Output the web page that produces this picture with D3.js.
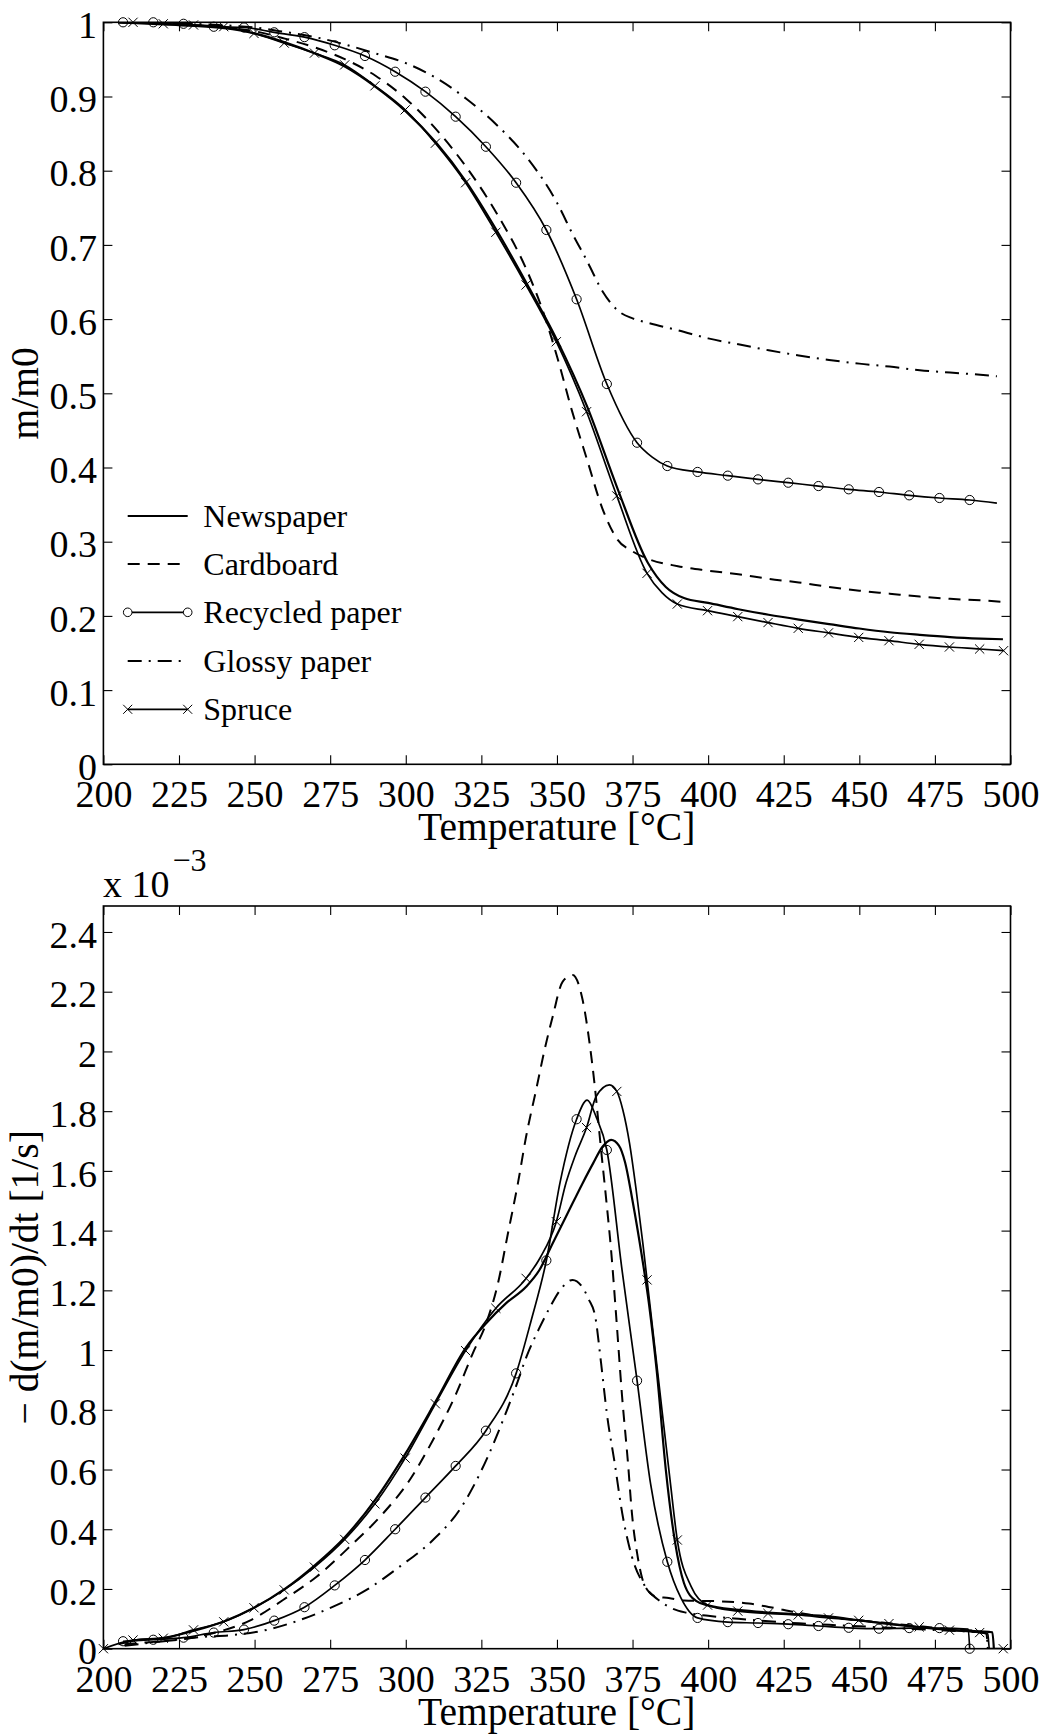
<!DOCTYPE html>
<html>
<head>
<meta charset="utf-8">
<script src="https://cdn.jsdelivr.net/npm/d3@7"></script>
<style>
body { margin: 0; background: #fff; }
svg text { font-family: "Liberation Serif", "Times New Roman", serif; fill: #000; }
</style>
</head>
<body>
<div id="chart"></div>
<script>
// axis ticks
var tempTicks = [200, 225, 250, 275, 300, 325, 350, 375, 400, 425, 450, 475, 500];
var massTicks = [0, 0.1, 0.2, 0.3, 0.4, 0.5, 0.6, 0.7, 0.8, 0.9, 1];
var massTickLabels = ["0", "0.1", "0.2", "0.3", "0.4", "0.5", "0.6", "0.7", "0.8", "0.9", "1"];
var rateTicks = [0, 0.2, 0.4, 0.6, 0.8, 1, 1.2, 1.4, 1.6, 1.8, 2, 2.2, 2.4];
var rateTickLabels = ["0", "0.2", "0.4", "0.6", "0.8", "1", "1.2", "1.4", "1.6", "1.8", "2", "2.2", "2.4"];

var seriesNames = ["Newspaper", "Cardboard", "Recycled paper", "Glossy paper", "Spruce"];

// ---- top plot: m/m0 vs temperature ----
var newsMassT = [205, 220, 240, 250, 260, 270, 280, 290, 300, 310, 320, 330, 340, 350, 360, 370, 380, 386, 392, 400, 410, 420, 430, 440, 450, 460, 470, 480, 490, 497.5];
var newsMass  = [1.0, 0.997, 0.992, 0.985, 0.973, 0.958, 0.94, 0.913, 0.88, 0.838, 0.785, 0.72, 0.648, 0.572, 0.482, 0.372, 0.272, 0.239, 0.224, 0.2175, 0.209, 0.2015, 0.195, 0.189, 0.183, 0.178, 0.1745, 0.1715, 0.1695, 0.1685];

var cardMassT = [205, 220, 240, 250, 260, 270, 280, 290, 300, 310, 320, 330, 340, 345, 350, 355, 360, 365, 370, 375, 380, 390, 400, 410, 420, 430, 440, 450, 460, 470, 480, 490, 497.5];
var cardMass  = [1.0, 0.998, 0.993, 0.988, 0.978, 0.966, 0.95, 0.928, 0.897, 0.856, 0.805, 0.743, 0.666, 0.615, 0.55, 0.476, 0.41, 0.345, 0.303, 0.287, 0.277, 0.267, 0.261, 0.256, 0.25, 0.245, 0.239, 0.234, 0.23, 0.226, 0.223, 0.221, 0.219];

var recMassT = [206.5, 216.5, 226.5, 236.5, 246.5, 256.5, 266.5, 276.5, 286.5, 296.5, 306.5, 316.5, 326.5, 336.5, 346.5, 356.5, 366.5, 376.5, 381.5, 386.5, 396.5, 406.5, 416.5, 426.5, 436.5, 446.5, 456.5, 466.5, 476.5, 486.5, 495.5];
var recMass  = [1.0, 1.0, 0.998, 0.994, 0.993, 0.9865, 0.98, 0.969, 0.9546, 0.9334, 0.9065, 0.8728, 0.8323, 0.7838, 0.7201, 0.6267, 0.5125, 0.4334, 0.414, 0.402, 0.394, 0.389, 0.384, 0.3795, 0.375, 0.3706, 0.367, 0.3625, 0.3589, 0.3562, 0.352];
var recMassMarkT = [206.5, 216.5, 226.5, 236.5, 246.5, 256.5, 266.5, 276.5, 286.5, 296.5, 306.5, 316.5, 326.5, 336.5, 346.5, 356.5, 366.5, 376.5, 386.5, 396.5, 406.5, 416.5, 426.5, 436.5, 446.5, 456.5, 466.5, 476.5, 486.5];
var recMassMark  = [1.0, 1.0, 0.998, 0.994, 0.993, 0.9865, 0.98, 0.969, 0.9546, 0.9334, 0.9065, 0.8728, 0.8323, 0.7838, 0.7201, 0.6267, 0.5125, 0.4334, 0.402, 0.394, 0.389, 0.384, 0.3795, 0.375, 0.3706, 0.367, 0.3625, 0.3589, 0.3562];

var glossMassT = [205, 220, 240, 250, 260, 270, 280, 290, 300, 310, 320, 330, 340, 350, 355, 360, 365, 370, 375, 380, 390, 400, 410, 420, 430, 440, 450, 460, 470, 480, 490, 495.5];
var glossMass  = [1.0, 0.999, 0.996, 0.993, 0.987, 0.98, 0.97, 0.958, 0.945, 0.925, 0.897, 0.862, 0.818, 0.757, 0.716, 0.678, 0.638, 0.612, 0.601, 0.595, 0.585, 0.574, 0.566, 0.558, 0.551, 0.545, 0.54, 0.536, 0.531, 0.528, 0.525, 0.523];

var spruceMassT = [205, 209.8, 219.8, 229.8, 239.8, 249.8, 259.8, 269.8, 279.8, 289.8, 299.8, 309.8, 319.8, 329.8, 339.8, 349.8, 359.8, 369.8, 379.8, 384.8, 389.8, 399.8, 409.8, 419.8, 429.8, 439.8, 449.8, 459.8, 469.8, 479.8, 489.8, 497.7];
var spruceMass  = [1.0, 1.0, 0.998, 0.9964, 0.9941, 0.985, 0.972, 0.9585, 0.9426, 0.9144, 0.882, 0.8371, 0.7838, 0.717, 0.646, 0.5695, 0.4752, 0.3617, 0.2574, 0.231, 0.216, 0.207, 0.199, 0.191, 0.1833, 0.1771, 0.171, 0.1666, 0.1617, 0.1581, 0.1554, 0.1531];
var spruceMassMarkT = [209.8, 219.8, 229.8, 239.8, 249.8, 259.8, 269.8, 279.8, 289.8, 299.8, 309.8, 319.8, 329.8, 339.8, 349.8, 359.8, 369.8, 379.8, 389.8, 399.8, 409.8, 419.8, 429.8, 439.8, 449.8, 459.8, 469.8, 479.8, 489.8, 497.7];
var spruceMassMark  = [1.0, 0.998, 0.9964, 0.9941, 0.985, 0.972, 0.9585, 0.9426, 0.9144, 0.882, 0.8371, 0.7838, 0.717, 0.646, 0.5695, 0.4752, 0.3617, 0.2574, 0.216, 0.207, 0.199, 0.191, 0.1833, 0.1771, 0.171, 0.1666, 0.1617, 0.1581, 0.1554, 0.1531];

// ---- bottom plot: -d(m/m0)/dt  (x 10^-3 1/s) ----
var newsRateT = [205, 210, 220, 230, 240, 250, 260, 270, 280, 290, 300, 310, 320, 326.6, 333.2, 339.8, 344.2, 348.6, 353, 358.5, 362, 365, 367.9, 370.5, 372.5, 375, 378, 380.5, 383, 386, 389, 392, 396, 400, 410, 420, 430, 440, 450, 460, 470, 480, 490, 494, 494.5];
var newsRate  = [0.015, 0.027, 0.036, 0.06, 0.092, 0.138, 0.2, 0.28, 0.375, 0.5, 0.655, 0.83, 1.01, 1.09, 1.157, 1.212, 1.268, 1.358, 1.447, 1.559, 1.626, 1.68, 1.704, 1.685, 1.63, 1.5, 1.32, 1.15, 0.93, 0.6, 0.36, 0.22, 0.16, 0.145, 0.13, 0.121, 0.115, 0.108, 0.095, 0.082, 0.072, 0.063, 0.058, 0.055, 0];

var cardRateT = [207, 215.4, 226.4, 237.4, 248.4, 259.4, 270.5, 281.5, 292.5, 301.3, 309, 316.7, 322.2, 326.6, 330.5, 333.8, 337.1, 339.8, 343.1, 345.9, 348.6, 351.9, 355.2, 358.5, 360.8, 362.4, 364.6, 366.3, 367.9, 369.6, 371.5, 373.5, 374.8, 376.7, 379.2, 383, 387, 392, 403, 413.5, 420, 430, 440, 450, 460, 470, 480, 490, 492, 492.5];
var cardRate  = [0.015, 0.022, 0.032, 0.055, 0.094, 0.163, 0.241, 0.342, 0.453, 0.565, 0.699, 0.855, 0.99, 1.09, 1.224, 1.391, 1.559, 1.715, 1.871, 2.005, 2.117, 2.234, 2.256, 2.172, 2.027, 1.894, 1.67, 1.503, 1.335, 1.112, 0.85, 0.621, 0.453, 0.308, 0.208, 0.174, 0.17, 0.161, 0.159, 0.151, 0.14, 0.12, 0.105, 0.095, 0.085, 0.075, 0.066, 0.058, 0.05, 0];

var recRateT = [206.5, 216.5, 226.5, 236.5, 246.5, 256.5, 266.5, 276.5, 286.5, 296.5, 306.5, 316.5, 326.5, 336.5, 341.5, 346.5, 351, 356.5, 360, 363, 366.5, 371.5, 376.5, 381, 386.5, 391, 396.5, 406.5, 416.5, 426.5, 436.5, 446.5, 456.5, 466.5, 476.5, 486, 486.5];
var recRate  = [0.025, 0.03, 0.037, 0.054, 0.064, 0.094, 0.139, 0.212, 0.297, 0.4, 0.506, 0.612, 0.73, 0.922, 1.1, 1.3, 1.56, 1.773, 1.837, 1.78, 1.67, 1.27, 0.8975, 0.55, 0.291, 0.17, 0.103, 0.089, 0.086, 0.082, 0.076, 0.07, 0.067, 0.069, 0.069, 0.066, 0];
var recRateMarkT = [206.5, 216.5, 226.5, 236.5, 246.5, 256.5, 266.5, 276.5, 286.5, 296.5, 306.5, 316.5, 326.5, 336.5, 346.5, 356.5, 366.5, 376.5, 386.5, 396.5, 406.5, 416.5, 426.5, 436.5, 446.5, 456.5, 466.5, 476.5, 486.5];
var recRateMark  = [0.025, 0.03, 0.037, 0.054, 0.064, 0.094, 0.139, 0.212, 0.297, 0.4, 0.506, 0.612, 0.73, 0.922, 1.3, 1.773, 1.67, 0.8975, 0.291, 0.103, 0.089, 0.086, 0.082, 0.076, 0.07, 0.067, 0.069, 0.069, 0];

var glossRateT = [207, 220, 232, 243, 254, 265, 276, 287, 298, 309, 317.8, 327, 333.5, 336.5, 340, 344, 347.5, 351, 355.2, 358.3, 360.5, 362.7, 364.6, 366.5, 369.1, 371.6, 374.8, 379.2, 383.6, 388, 393, 400, 410, 420, 430, 440, 450, 460, 470, 480, 490, 492, 492.5];
var glossRate  = [0.01, 0.025, 0.039, 0.046, 0.063, 0.096, 0.141, 0.197, 0.275, 0.364, 0.465, 0.64, 0.8, 0.88, 0.98, 1.07, 1.14, 1.2, 1.235, 1.212, 1.17, 1.11, 0.956, 0.788, 0.621, 0.453, 0.308, 0.208, 0.163, 0.135, 0.12, 0.11, 0.1, 0.092, 0.085, 0.08, 0.075, 0.07, 0.065, 0.06, 0.055, 0.05, 0];

var spruceRateT = [200, 209.8, 219.8, 229.8, 239.8, 249.8, 259.8, 269.8, 279.8, 289.8, 299.8, 309.8, 319.8, 329.8, 339.8, 344.5, 349.8, 353, 356, 359.8, 363, 367.4, 369.8, 371.8, 374, 376.2, 378.4, 379.8, 383.6, 387.4, 389.8, 394.4, 399.8, 409.8, 419.8, 429.8, 439.8, 449.8, 459.8, 469.8, 479.8, 489.8, 492.5, 493, 497.6];
var spruceRate  = [0, 0.029, 0.035, 0.063, 0.09, 0.137, 0.197, 0.273, 0.366, 0.485, 0.638, 0.82, 0.998, 1.14, 1.24, 1.31, 1.43, 1.56, 1.65, 1.745, 1.85, 1.888, 1.866, 1.804, 1.693, 1.536, 1.358, 1.235, 0.9, 0.565, 0.364, 0.208, 0.146, 0.126, 0.118, 0.113, 0.103, 0.095, 0.084, 0.073, 0.062, 0.054, 0.05, 0, 0];
var spruceRateMarkT = [200, 209.8, 219.8, 229.8, 239.8, 249.8, 259.8, 269.8, 279.8, 289.8, 299.8, 309.8, 319.8, 329.8, 339.8, 349.8, 359.8, 369.8, 379.8, 389.8, 399.8, 409.8, 419.8, 429.8, 439.8, 449.8, 459.8, 469.8, 479.8, 489.8, 497.6];
var spruceRateMark  = [0, 0.029, 0.035, 0.063, 0.09, 0.137, 0.197, 0.273, 0.366, 0.485, 0.638, 0.82, 0.998, 1.14, 1.24, 1.43, 1.745, 1.866, 1.235, 0.364, 0.146, 0.126, 0.118, 0.113, 0.103, 0.095, 0.084, 0.073, 0.062, 0.054, 0];

// line styles per series
var dashes = { news: null, card: "12,8", rec: null, gloss: "14,7,2,7", spruce: null };

var width = 1049, height = 1735;
var svg = d3.select("#chart").append("svg")
    .attr("width", width)
    .attr("height", height);

var x = d3.scaleLinear().domain([200, 500]).range([103.4, 1010.5]);
var yTop = d3.scaleLinear().domain([0, 1]).range([764.3, 22.3]);
var yBot = d3.scaleLinear().domain([0, 2.487]).range([1648.7, 906]);

function zip(ts, vs) { return ts.map(function(t, i) { return [t, vs[i]]; }); }

function drawFrame(y, ticks, labels, clipId) {
  var g = svg.append("g");
  var x0 = x.range()[0], x1 = x.range()[1];
  var yb = y.range()[0], yt = y.range()[1];

  svg.append("clipPath").attr("id", clipId)
    .append("rect").attr("x", x0).attr("y", yt).attr("width", x1 - x0).attr("height", yb - yt);

  var bottom = d3.axisBottom(x).tickValues(tempTicks).tickSize(-9).tickPadding(16).tickFormat(d3.format("d"));
  var top = d3.axisTop(x).tickValues(tempTicks).tickSize(-9).tickFormat("");
  var left = d3.axisLeft(y).tickValues(ticks).tickSize(-9).tickPadding(6.5)
      .tickFormat(function(d, i) { return labels[i]; });
  var right = d3.axisRight(y).tickValues(ticks).tickSize(-9).tickFormat("");

  g.append("g").attr("transform", "translate(0," + yb + ")").call(bottom);
  g.append("g").attr("transform", "translate(0," + yt + ")").call(top);
  g.append("g").attr("transform", "translate(" + x0 + ",0)").call(left);
  g.append("g").attr("transform", "translate(" + x1 + ",0)").call(right);

  g.selectAll(".domain").remove();
  g.selectAll(".tick line").attr("stroke", "#000").attr("stroke-width", 1.1);
  g.selectAll(".tick text").attr("font-size", 38).attr("font-family", "Liberation Serif, Times New Roman, serif");
  g.selectAll(".tick text").filter(function() { return d3.select(this).attr("x") < 0; }).attr("dy", "0.4em");

  g.append("rect").attr("x", x0).attr("y", yt).attr("width", x1 - x0).attr("height", yb - yt)
    .attr("fill", "none").attr("stroke", "#000").attr("stroke-width", 1.6);
  return g;
}

function drawLine(y, pts, dash, w, clipId) {
  var line = d3.line().x(function(d) { return x(d[0]); }).y(function(d) { return y(d[1]); })
      .curve(d3.curveMonotoneX);
  svg.append("path").datum(pts)
    .attr("clip-path", "url(#" + clipId + ")")
    .attr("d", line)
    .attr("fill", "none").attr("stroke", "#000").attr("stroke-width", w)
    .attr("stroke-dasharray", dash);
}

function drawCircles(y, pts) {
  svg.append("g").selectAll("circle").data(pts).enter().append("circle")
    .attr("cx", function(d) { return x(d[0]); })
    .attr("cy", function(d) { return y(d[1]); })
    .attr("r", 4.6).attr("fill", "none").attr("stroke", "#000").attr("stroke-width", 1);
}

function drawCrosses(y, pts) {
  svg.append("g").selectAll("path").data(pts).enter().append("path")
    .attr("transform", function(d) { return "translate(" + x(d[0]) + "," + y(d[1]) + ")"; })
    .attr("d", "M-4.6,-4.6L4.6,4.6M-4.6,4.6L4.6,-4.6")
    .attr("stroke", "#000").attr("stroke-width", 1);
}

// ---------- top plot ----------
drawFrame(yTop, massTicks, massTickLabels, "clipTop");
drawLine(yTop, zip(glossMassT, glossMass), dashes.gloss, 2, "clipTop");
drawLine(yTop, zip(cardMassT, cardMass), dashes.card, 2, "clipTop");
drawLine(yTop, zip(newsMassT, newsMass), dashes.news, 2.2, "clipTop");
drawLine(yTop, zip(recMassT, recMass), dashes.rec, 1.7, "clipTop");
drawLine(yTop, zip(spruceMassT, spruceMass), dashes.spruce, 1.7, "clipTop");
drawCircles(yTop, zip(recMassMarkT, recMassMark));
drawCrosses(yTop, zip(spruceMassMarkT, spruceMassMark));

svg.append("text").attr("x", 556.7).attr("y", 840).attr("text-anchor", "middle")
  .attr("font-size", 39.5).text("Temperature [°C]");
svg.append("text").attr("transform", "translate(38,393.3) rotate(-90)").attr("text-anchor", "middle")
  .attr("font-size", 39.5).text("m/m0");

// legend (no box)
var legY = [516, 564, 612.3, 661, 709.3];
var legKeys = ["news", "card", "rec", "gloss", "spruce"];
var legend = svg.append("g");
legKeys.forEach(function(k, i) {
  var ly = legY[i];
  legend.append("line").attr("x1", 127.7).attr("x2", 187.7).attr("y1", ly).attr("y2", ly)
    .attr("stroke", "#000").attr("stroke-width", k === "rec" || k === "spruce" ? 1.7 : 2)
    .attr("stroke-dasharray", dashes[k]);
  legend.append("text").attr("x", 203.3).attr("y", ly + 11).attr("font-size", 32).text(seriesNames[i]);
  if (k === "rec") {
    [127.7, 187.7].forEach(function(px) {
      legend.append("circle").attr("cx", px).attr("cy", ly).attr("r", 4.3)
        .attr("fill", "#fff").attr("stroke", "#000").attr("stroke-width", 1);
    });
  }
  if (k === "spruce") {
    [127.7, 187.7].forEach(function(px) {
      legend.append("path").attr("transform", "translate(" + px + "," + ly + ")")
        .attr("d", "M-4.5,-4.5L4.5,4.5M-4.5,4.5L4.5,-4.5").attr("stroke", "#000").attr("stroke-width", 1);
    });
  }
});

// ---------- bottom plot ----------
drawFrame(yBot, rateTicks, rateTickLabels, "clipBot");
drawLine(yBot, zip(glossRateT, glossRate), dashes.gloss, 2, "clipBot");
drawLine(yBot, zip(cardRateT, cardRate), dashes.card, 2, "clipBot");
drawLine(yBot, zip(newsRateT, newsRate), dashes.news, 2.2, "clipBot");
drawLine(yBot, zip(recRateT, recRate), dashes.rec, 1.7, "clipBot");
drawLine(yBot, zip(spruceRateT, spruceRate), dashes.spruce, 1.7, "clipBot");
drawCircles(yBot, zip(recRateMarkT, recRateMark));
drawCrosses(yBot, zip(spruceRateMarkT, spruceRateMark));

svg.append("text").attr("x", 556.7).attr("y", 1725).attr("text-anchor", "middle")
  .attr("font-size", 39.5).text("Temperature [°C]");
svg.append("text").attr("transform", "translate(37.5,1277.3) rotate(-90)").attr("text-anchor", "middle")
  .attr("font-size", 39.5).text("\u2212 d(m/m0)/dt [1/s]");

// exponent label above the axis
var expo = svg.append("text").attr("x", 103).attr("y", 896.7).attr("font-size", 38);
expo.append("tspan").text("x 10");
expo.append("tspan").attr("font-size", 32).attr("dx", 3).attr("dy", -26).text("\u22123");
</script>
</body>
</html>
